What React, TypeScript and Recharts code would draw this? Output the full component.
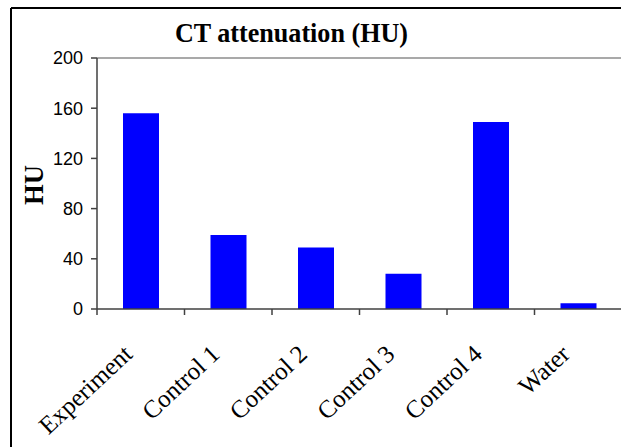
import { Bar, BarChart, ReferenceLine, XAxis, YAxis } from 'recharts'

const categories = ['Experiment', 'Control 1', 'Control 2', 'Control 3', 'Control 4', 'Water']
const huValues = [156, 59, 49, 28, 149, 4.5]
const yTicks = [0, 40, 80, 120, 160, 200]

const data = categories.map((name, i) => ({ name, hu: huValues[i] }))

const AXIS = '#404040'
const SERIF = '"Liberation Serif", "Times New Roman", serif'
const SANS = '"Liberation Sans", Arial, sans-serif'

// tick marks sit on category boundaries, labels are rotated under each bar
function CategoryTick(props: any) {
  const { x, y, payload } = props
  const off = payload.offset ?? 43.75
  const lx = x - 7
  const ly = y + 47
  return (
    <g>
      <line x1={x - off} x2={x - off} y1={y} y2={y + 6} stroke={AXIS} strokeWidth={1.5} />
      <text
        x={lx}
        y={ly}
        transform={`rotate(-43 ${lx} ${ly})`}
        textAnchor="end"
        fontFamily={SERIF}
        fontSize={25}
        fill="#000"
      >
        {payload.value}
      </text>
    </g>
  )
}

export default function App() {
  return (
    <div style={{ position: 'fixed', left: 0, top: 0, width: 621, height: 447, overflow: 'hidden', background: '#fff' }}>
      <div style={{ position: 'absolute', left: 0, top: 0 }}>
        <BarChart
          width={640}
          height={447}
          data={data}
          margin={{ top: 58, right: 18, bottom: 38, left: 37 }}
          barSize={36}
        >
          <ReferenceLine y={200} stroke="#8c8c8c" strokeWidth={1.5} />
          <XAxis
            dataKey="name"
            height={100}
            interval={0}
            tickLine={false}
            tickSize={0}
            tickMargin={0}
            axisLine={{ stroke: AXIS, strokeWidth: 1.5 }}
            tick={<CategoryTick />}
          />
          <YAxis
            width={60}
            domain={[0, 200]}
            ticks={yTicks}
            interval={0}
            tickSize={6}
            tickMargin={8}
            axisLine={{ stroke: AXIS, strokeWidth: 1.5 }}
            tickLine={{ stroke: AXIS, strokeWidth: 1.5 }}
            tick={{ fill: '#000', fontFamily: SANS, fontSize: 18 }}
          />
          <Bar dataKey="hu" fill="#0000ff" isAnimationActive={false} />
        </BarChart>
      </div>
      <svg
        width={621}
        height={447}
        style={{ position: 'absolute', left: 0, top: 0, pointerEvents: 'none' }}
      >
        <line x1={11} x2={621} y1={8} y2={8} stroke="#000" strokeWidth={2} />
        <line x1={11} x2={11} y1={8} y2={447} stroke="#000" strokeWidth={2} />
        <text
          x={175}
          y={41.5}
          textLength={233}
          lengthAdjust="spacingAndGlyphs"
          fontFamily={SERIF}
          fontWeight="bold"
          fontSize={27}
          fill="#000"
        >
          CT attenuation (HU)
        </text>
        <text
          x={43}
          y={205}
          transform="rotate(-90 43 205)"
          textLength={40}
          lengthAdjust="spacingAndGlyphs"
          fontFamily={SERIF}
          fontWeight="bold"
          fontSize={27}
          fill="#000"
        >
          HU
        </text>
      </svg>
    </div>
  )
}
